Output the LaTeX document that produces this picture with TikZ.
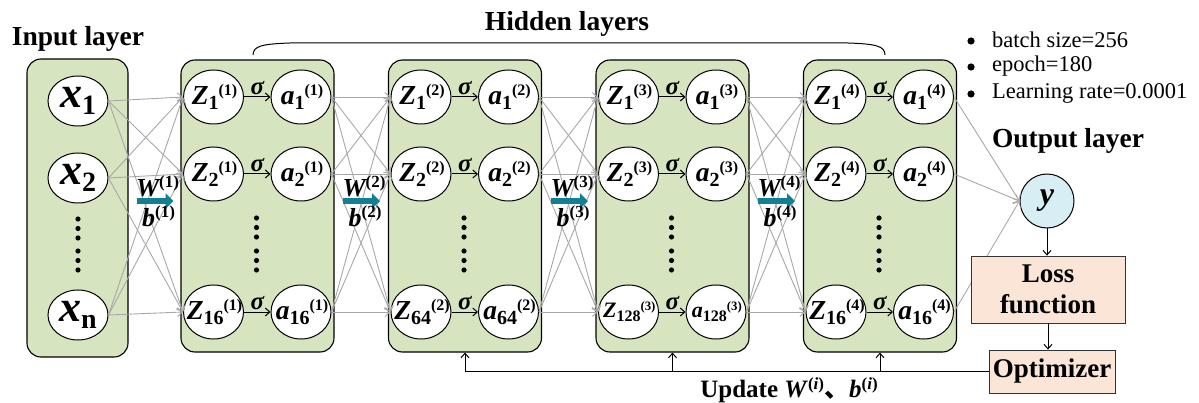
\documentclass[tikz,border=0pt]{standalone}
\usepackage{fontspec}
\setmainfont{Liberation Serif}
\newfontfamily\cjk{Noto Sans CJK SC}
\usetikzlibrary{arrows.meta,shapes.geometric}
\definecolor{layergreen}{HTML}{D6E4BF}
\definecolor{linkgrey}{HTML}{A8A8A8}
\definecolor{feedteal}{RGB}{16,128,146}
\definecolor{outblue}{HTML}{D7EEF5}
\definecolor{procpeach}{HTML}{FBE5D6}

% neuron label: letter, subscript, layer index in parentheses
\newcommand\nlab[3]{\makebox[0pt]{\hspace{2pt}{\fontsize{27.5}{27.5}\selectfont\bfseries\itshape #1}\raisebox{-5pt}{\fontsize{20}{20}\selectfont\bfseries #2}\raisebox{9pt}{\fontsize{16}{16}\selectfont\bfseries(#3)}}}
% input label
\newcommand\xlab[1]{\makebox[0pt]{{\fontsize{44}{44}\selectfont\bfseries\itshape x}\raisebox{-7pt}{\fontsize{28}{28}\selectfont\bfseries #1}}}
% weight / bias label
\newcommand\wlab[2]{{\fontsize{26}{26}\selectfont\bfseries\itshape #1}\raisebox{9pt}{\fontsize{17}{17}\selectfont\bfseries(#2)}}

\begin{document}
\begin{tikzpicture}[x=1pt,y=-1pt,
  layerbox/.style={draw=black, line width=1.1pt, fill=layergreen, rounded corners=14pt, inner sep=0pt},
  neuron/.style={ellipse, draw=black, line width=1pt, fill=white, minimum width=60pt, minimum height=54pt, inner sep=0pt},
  conn/.style={draw=linkgrey, line width=0.9pt, -{Straight Barb[length=5pt,width=9pt]}},
  act/.style={draw=black, line width=1pt, -{Straight Barb[length=4.5pt,width=8pt]}},
  feed/.style={draw=feedteal, line width=6.5pt, -{Triangle[length=8pt,width=15pt]}},
  procbox/.style={draw=black!80, line width=0.8pt, fill=procpeach, inner sep=0pt, align=center,
    font=\fontsize{27}{31}\selectfont\bfseries},
  title/.style={font=\fontsize{27.5}{30}\selectfont\bfseries, inner sep=0pt},
  legend/.style={font=\fontsize{22.5}{24}\selectfont, anchor=west, inner sep=0pt},
  sig/.style={font=\fontsize{25}{25}\selectfont\bfseries\itshape, inner sep=0.5pt}]
\useasboundingbox (0,0) rectangle (1199,403);

% input layer
\node[layerbox, minimum width=101pt, minimum height=298pt] (inbox) at (77.5,208) {};
\node[neuron, minimum height=50pt] (x1) at (78,101) {\xlab{1}};
\node[neuron, minimum height=50pt] (x2) at (78,178) {\xlab{2}};
\node[neuron, minimum height=50pt] (x3) at (78,315) {\xlab{n}};
\foreach \yy in {219,228.5,238,251,260.5,270}
  \fill (78,\yy) circle (2.6pt);
\node[title] (intitle) at (78,39) {Input layer};

% hidden layers
\foreach \k/\L/\N/\s in {1/181/16/1, 2/388.5/64/1, 3/596/128/0.8, 4/803.5/16/1}{
  \node[layerbox, minimum width=153pt, minimum height=292pt] (h\k) at (\L+76.5,206) {};
  \node[neuron] (z\k-1) at (\L+32.5,97)  {\nlab{Z}{1}{\k}};
  \node[neuron] (a\k-1) at (\L+120,97)   {\nlab{a}{1}{\k}};
  \node[neuron] (z\k-2) at (\L+32.5,174) {\nlab{Z}{2}{\k}};
  \node[neuron] (a\k-2) at (\L+120,174)  {\nlab{a}{2}{\k}};
  \node[neuron] (z\k-3) at (\L+32.5,312) {\scalebox{\s}{\nlab{Z}{\N}{\k}}};
  \node[neuron] (a\k-3) at (\L+120,312)  {\scalebox{\s}{\nlab{a}{\N}{\k}}};
  \foreach \r in {1,2,3}
    \draw[act] (z\k-\r.east) -- node[sig, above=1pt] {σ} (a\k-\r.west);
  \foreach \yy in {218,227.5,237,251,260.5,270}
    \fill (\L+75.5,\yy) circle (2.6pt);
}

% full connections between layers
\foreach \i in {1,2,3}
  \foreach \j in {1,2,3}
    \draw[conn] (x\i.east) -- (z1-\j.west);
\foreach \k/\n in {1/2,2/3,3/4}
  \foreach \i in {1,2,3}
    \foreach \j in {1,2,3}
      \draw[conn] (a\k-\i.east) -- (z\n-\j.west);

% weight/bias arrows in the gaps
\foreach \k/\g in {1/154.5, 2/361, 3/569, 4/776}{
  \coordinate (fs\k) at (\g-18,201);
  \coordinate (fe\k) at (\g+19,201);
  \draw[feed] (fs\k) -- (fe\k);
  \node[inner sep=0pt] (w\k) at (\g+3,186) {\wlab{W}{\k}};
  \node[inner sep=0pt] (b\k) at (\g+4,216) {\wlab{b}{\k}};
}

% hidden layer brace
\draw[line width=1pt] (253,55) .. controls (253,46) and (262,44) .. (290,43) -- (848,43)
  .. controls (876,44) and (885,46) .. (885,55);
\node[title] (hidtitle) at (567,24) {Hidden layers};

% output side
\node[title] (outtitle) at (1068,141) {Output layer};
\node[circle, draw=black, line width=1pt, fill=outblue, minimum size=54pt, inner sep=0pt,
  font=\fontsize{32}{32}\selectfont\bfseries\itshape] (y) at (1047,201) {y};
\foreach \i in {1,2,3}
  \draw[conn] (a4-\i.east) -- (y.west);
\node[procbox, minimum width=154pt, minimum height=67pt] (loss) at (1048,289.5) {Loss\\function};
\node[procbox, minimum width=126pt, minimum height=43pt] (opt) at (1052,371.5) {Optimizer};
\draw[act] (y.south) -- (y.south |- loss.north);
\draw[act] (loss.south) -- (loss.south |- opt.north);

% update feedback
\draw[line width=1pt] (opt.west) -- (h2.south |- opt.west);
\foreach \k in {2,3,4}
  \draw[act] (h\k.south |- opt.west) -- (h\k.south);
\node[inner sep=0pt, font=\fontsize{25}{25}\selectfont\bfseries] (upd) at (789,390)
  {Update \textit{W}\raisebox{8pt}{\fontsize{17}{17}\selectfont(\textit{i})}{\cjk 、}\textit{b}\raisebox{8pt}{\fontsize{17}{17}\selectfont(\textit{i})}};

% training settings
\foreach \yy in {40,66,93}
  \fill (971,\yy+1) circle (3.6pt);
\node[legend] (l1) at (992,40) {batch size=256};
\node[legend] (l2) at (992,66) {epoch=180};
\node[legend] (l3) at (992,93) {Learning rate=0.0001};
\end{tikzpicture}
\end{document}
